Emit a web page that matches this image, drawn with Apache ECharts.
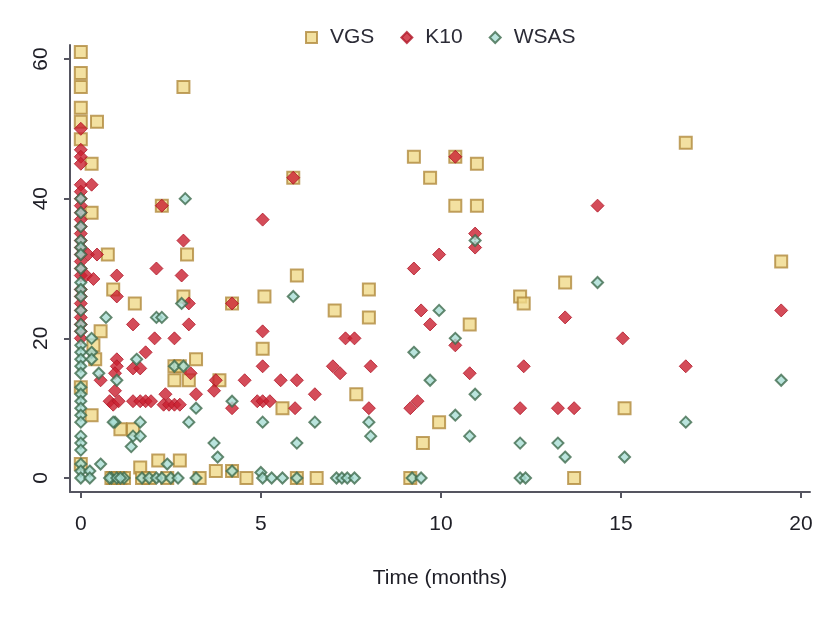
<!DOCTYPE html>
<html>
<head>
<meta charset="utf-8">
<script src="https://cdn.jsdelivr.net/npm/echarts@6/dist/echarts.min.js"></script>
<style>
html,body{margin:0;padding:0;background:#fff;}
#c{width:819px;height:620px;}
</style>
</head>
<body>
<div id="c"></div>
<script>
// ---- data (time in months, score) ----
const xTicks = [0, 5, 10, 15, 20];
const yTicks = [0, 20, 40, 60];
const seriesNames = ['VGS', 'K10', 'WSAS'];

const vgsData = [
  [0,61],[0,58],[0,56],[0,53],[0,51],[0,48.5],[0.45,51],[0.3,45],[0.3,38],[2.85,56],[2.25,39],
  [0.75,32],[0.9,27],[1.5,25],[0.55,21],[0.35,19],[0.4,17],[0,13],[0.3,9],[2.95,32],[2.85,26],
  [2.6,16],[2.75,16],[3.2,17],[2.6,14],[3.0,14],[3.85,14],[5.05,18.5],[5.6,10],[1.1,7],[1.45,7],
  [1.65,1.5],[2.15,2.5],[2.75,2.5],[3.75,1],[4.2,1],[3.3,0],[0.9,0],[1.1,0],[1.7,0],[1.9,0],[2.4,0],
  [4.6,0],[6.0,0],[6.55,0],[0,2],[0.85,0],[1.2,0],[5.9,43],[6.0,29],[8.0,27],[5.1,26],[4.2,25],
  [7.05,24],[8.0,23],[7.65,12],[9.25,46],[10.4,46],[11.0,45],[9.7,43],[10.4,39],[11.0,39],
  [13.45,28],[12.2,26],[12.3,25],[10.8,22],[15.1,10],[9.95,8],[9.5,5],[9.15,0],[13.7,0],
  [16.8,48],[19.45,31]
];

const k10Data = [
  [0,50],[0,47],[0,46],[0,45],[0,42],[0,41],[0,40],[0,39],[0,38],[0,37],[0,36],[0,35],[0,34],
  [0,33],[0,32],[0,31],[0,30],[0,29],[0,27],[0,26],[0,25],[0,24],[0,23],[0,22],[0,21],[0,20],
  [0.3,42],[0.2,32],[0.45,32],[0.15,29],[0.35,28.5],[1.0,29],[1.0,26],[1.45,22],[0.55,14],
  [1.0,17],[1.0,16],[0.95,15],[0.95,12.5],[0.8,11],[0.9,10.5],[1.05,11],[1.45,15.7],[1.65,15.7],
  [1.8,18],[2.05,20],[2.6,20],[2.1,30],[2.85,34],[2.8,29],[3.0,25],[3.0,22],[2.25,39],[3.05,15],
  [3.75,14],[3.7,12.5],[4.55,14],[5.55,14],[6.0,14],[5.05,21],[5.05,16],[2.35,12],[3.2,12],
  [1.45,11],[1.65,11],[1.8,11],[1.95,11],[2.3,10.5],[2.45,10.5],[2.6,10.5],[2.75,10.5],
  [4.9,11],[5.05,11],[5.25,11],[4.2,10],[5.95,10],[5.9,43],[5.05,37],[4.2,25],[7.35,20],[7.6,20],
  [7.0,16],[7.2,15],[8.05,16],[6.5,12],[8.0,10],[10.4,46],[14.35,39],[10.95,35],[10.95,33],
  [9.95,32],[9.25,30],[9.45,24],[9.7,22],[13.45,23],[10.4,19],[12.3,16],[10.8,15],[9.15,10],
  [9.35,11],[12.2,10],[13.25,10],[13.7,10],[19.45,24],[15.05,20],[16.8,16]
];

const wsasData = [
  [0,40],[0,38],[0,36],[0,34],[0,33],[0,32],[0,30],[0,28],[0,27],[0,26],[0,24],[0,22],[0,21],
  [0,19],[0,18],[0,17],[0,16],[0,15],[0,13],[0,12],[0,11],[0,10],[0,9],[0,8],[0,6],[0,5],[0,4],
  [0,2],[0,1],[0,0],
  [2.9,40],[0.7,23],[0.3,20],[0.3,18],[0.3,17],[0.5,15],[1.0,14],[0.95,8],[0.25,1],[0.55,2],
  [0.25,0],[0.85,0],[1.2,0],[1.55,17],[2.6,16],[2.85,16],[4.2,11],[3.2,10],[0.9,8],[1.65,8],
  [3.0,8],[5.05,8],[1.45,6],[1.65,6],[1.4,4.5],[3.7,5],[3.8,3],[6.0,5],[2.4,2],[0.8,0],[1.0,0],
  [1.1,0],[1.7,0],[1.9,0],[2.1,0],[2.25,0],[2.5,0],[2.7,0],[3.2,0],[4.2,1],[5.0,0.8],[5.05,0],
  [5.3,0],[5.6,0],[6.0,0],[7.1,0],[7.25,0],[7.4,0],[7.6,0],[2.8,25],[2.1,23],[2.25,23],[5.9,26],
  [6.5,8],[8.0,8],[8.05,6],[10.95,34],[14.35,28],[9.95,24],[10.4,20],[9.25,18],[9.7,14],
  [10.95,12],[10.4,9],[10.8,6],[12.2,5],[13.25,5],[13.45,3],[15.1,3],[9.2,0],[9.45,0],
  [12.2,0],[12.35,0],[16.8,8],[19.45,14]
];

const FONT = '"Liberation Sans", Arial, sans-serif';
const chart = echarts.init(document.getElementById('c'), null, {renderer: 'canvas'});
chart.setOption({
  backgroundColor: '#ffffff',
  animation: false,
  textStyle: {fontFamily: FONT},
  legend: {
    top: 22,
    left: 300,
    itemWidth: 11,
    itemHeight: 11,
    itemGap: 26,
    textStyle: {fontSize: 21, color: '#2b2b36', fontFamily: FONT, padding: [0, 0, 0, 8]},
    data: [
      {name: seriesNames[0], icon: 'rect'},
      {name: seriesNames[1], icon: 'diamond'},
      {name: seriesNames[2], icon: 'diamond'}
    ]
  },
  grid: {left: 70, right: 9, top: 45, bottom: 128, containLabel: false},
  xAxis: {
    type: 'value',
    min: -0.3,
    max: 20.25,
    name: 'Time (months)',
    nameLocation: 'middle',
    nameGap: 76,
    nameTextStyle: {fontSize: 21, color: '#1e1e26', fontFamily: FONT},
    splitLine: {show: false},
    axisLine: {show: true, onZero: false, lineStyle: {color: '#555560', width: 2}},
    axisTick: {show: true, customValues: xTicks, length: 6, lineStyle: {color: '#555560', width: 2}},
    axisLabel: {customValues: xTicks, fontSize: 21, color: '#1e1e26', margin: 22, fontFamily: FONT}
  },
  yAxis: {
    type: 'value',
    min: -2,
    max: 62,
    splitLine: {show: false},
    axisLine: {show: true, onZero: false, lineStyle: {color: '#555560', width: 2}},
    axisTick: {show: true, customValues: yTicks, length: 6, lineStyle: {color: '#555560', width: 2}},
    axisLabel: {customValues: yTicks, fontSize: 21, color: '#1e1e26', rotate: 90, margin: 18, fontFamily: FONT}
  },
  series: [
    {
      name: seriesNames[0], type: 'scatter', symbol: 'rect', symbolSize: 12,
      itemStyle: {color: '#f0da8a', borderColor: '#b08a3c', borderWidth: 2},
      data: vgsData, z: 2
    },
    {
      name: seriesNames[1], type: 'scatter', symbol: 'diamond', symbolSize: 13,
      itemStyle: {color: '#c91f30', borderColor: '#b01828', borderWidth: 1},
      data: k10Data, z: 3
    },
    {
      name: seriesNames[2], type: 'scatter', symbol: 'diamond', symbolSize: 11,
      itemStyle: {color: '#a9ddd4', borderColor: '#3f6b4d', borderWidth: 2},
      data: wsasData, z: 4
    }
  ]
});
</script>
</body>
</html>
